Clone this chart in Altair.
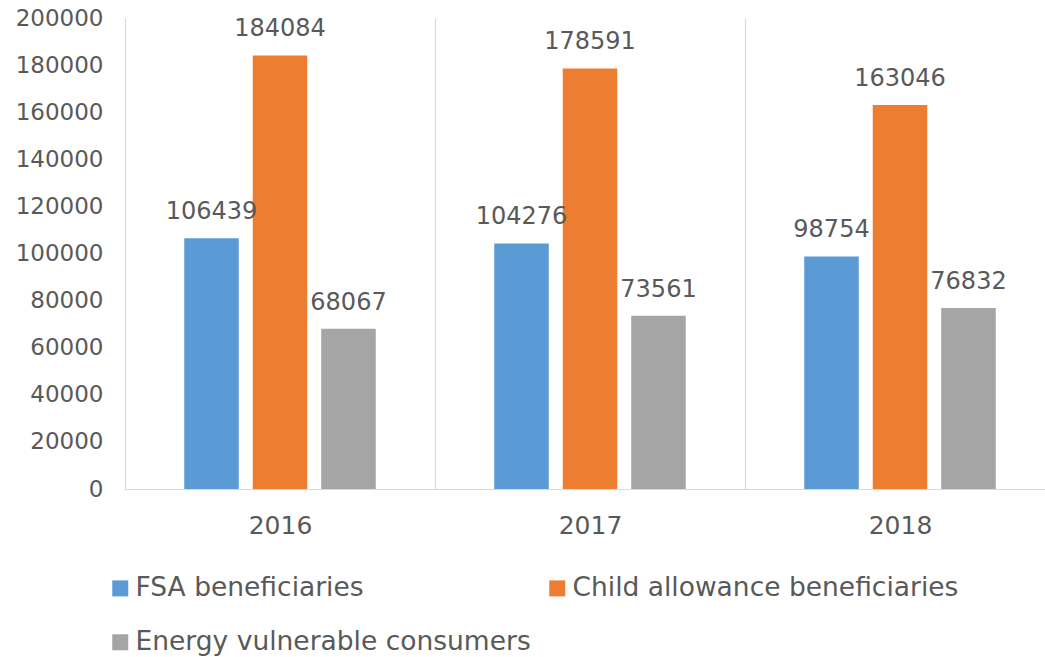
import altair as alt
import pandas as pd

years = ["2016", "2017", "2018"]
series = ["FSA beneficiaries", "Child allowance beneficiaries", "Energy vulnerable consumers"]
fsa = [106439, 104276, 98754]
child = [184084, 178591, 163046]
energy = [68067, 73561, 76832]
colors = ["#5B9BD5", "#ED7D31", "#A5A5A5"]
y_ticks = list(range(0, 200001, 20000))

rows = []
for vals, s in zip([fsa, child, energy], series):
    for yr, v in zip(years, vals):
        rows.append({"year": yr, "series": s, "value": v})
df = pd.DataFrame(rows)

TXT = "#595959"
GRID = "#D9D9D9"

x_enc = alt.X(
    "year:N",
    sort=years,
    title=None,
    scale=alt.Scale(range=[0, 930], paddingInner=0, paddingOuter=0),
    axis=alt.Axis(
        labelAngle=0, labelFont="DejaVu Sans", labelFontSize=25, labelColor=TXT,
        labelPadding=24, ticks=False, tickSize=0, tickBand="extent",
        grid=True, gridColor=GRID, gridWidth=1.2, domainColor=GRID, domainWidth=1.2,
    ),
)
xoff = alt.XOffset(
    "series:N", sort=series,
    scale=alt.Scale(paddingInner=0.204, paddingOuter=0.865),
)
y_enc = alt.Y(
    "value:Q",
    title=None,
    scale=alt.Scale(domain=[0, 200000], nice=False),
    axis=alt.Axis(
        values=y_ticks, format="d", labelFont="DejaVu Sans", labelFontSize=23,
        labelColor=TXT, labelPadding=22, ticks=False, tickSize=0, grid=False, domain=False,
    ),
)

bars = alt.Chart(df).mark_bar().encode(
    x=x_enc,
    xOffset=xoff,
    y=y_enc,
    color=alt.Color(
        "series:N",
        sort=series,
        scale=alt.Scale(domain=series, range=colors),
        legend=alt.Legend(
            title=None, orient="none", legendX=-18, legendY=557,
            direction="horizontal", columns=2, columnPadding=13, rowPadding=27,
            symbolType="square", symbolSize=256, symbolStrokeWidth=0,
            labelFont="DejaVu Sans", labelFontSize=26.5,
            labelColor=TXT, labelOffset=2, padding=0, labelLimit=700,
        ),
    ),
)

labels = alt.Chart(df).mark_text(
    font="DejaVu Sans", fontSize=24, color=TXT, baseline="alphabetic", dy=-19,
).encode(
    x=alt.X("year:N", sort=years),
    xOffset=alt.XOffset("series:N", sort=series),
    y=alt.Y("value:Q"),
    text=alt.Text("value:Q", format="d"),
)

chart = (
    alt.layer(bars, labels)
    .properties(
        width=920, height=471,
        autosize=alt.AutoSizeParams(type="none"),
        padding={"left": 125, "top": 18, "right": 0, "bottom": 168},
        background="white",
    )
    .configure_view(stroke=None)
)

chart.save("out.html", embed_options={"renderer": "svg", "actions": False})
